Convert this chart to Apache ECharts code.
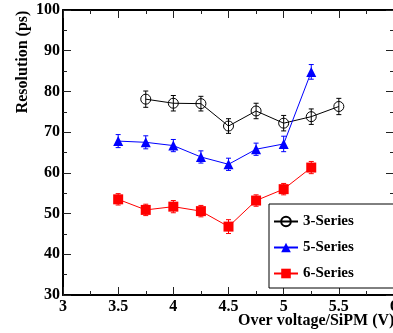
<!DOCTYPE html>
<html>
<head>
<meta charset="utf-8">
<script src="https://cdn.jsdelivr.net/npm/echarts@6/dist/echarts.min.js"></script>
<style>
  html, body { margin: 0; padding: 0; background: #fff; }
  #chart { width: 393px; height: 333px; }
</style>
</head>
<body>
<div id="chart"></div>
<script>
const voltages = [3.5, 3.75, 4, 4.25, 4.5, 4.75, 5, 5.25, 5.5]

// null where a series has no point
const series3 = [null, 78.1, 77.1, 77.0, 71.5, 75.2, 72.2, 73.8, 76.3]
const err3 = [null, 2.0, 1.9, 1.8, 1.8, 1.9, 1.9, 1.9, 2.0]
const series5 = [67.8, 67.5, 66.7, 63.9, 62.1, 65.8, 67.1, 84.8, null]
const err5 = [1.6, 1.6, 1.5, 1.5, 1.5, 1.5, 1.9, 1.8, null]
const series6 = [53.5, 50.9, 51.7, 50.6, 46.8, 53.2, 56.0, 61.3, null]
const err6 = [1.4, 1.4, 1.5, 1.4, 1.7, 1.4, 1.4, 1.5, null]

const seriesNames = ['3-Series', '5-Series', '6-Series']
const xTitle = 'Over voltage/SiPM (V)'
const yTitle = 'Resolution (ps)'

const font = 'Liberation Serif'

function points(vals) {
  const out = []
  vals.forEach((v, i) => { if (v != null) out.push([voltages[i], v]) })
  return out
}

function errPoints(vals, errs) {
  const out = []
  vals.forEach((v, i) => { if (v != null) out.push([voltages[i], v, errs[i]]) })
  return out
}

function errorBars(data, color) {
  return {
    type: 'custom',
    silent: true,
    z: 3,
    data: data,
    encode: { x: 0, y: 1 },
    renderItem: (params, api) => {
      const x = api.value(0)
      const y = api.value(1)
      const e = api.value(2)
      const top = api.coord([x, y + e])
      const bot = api.coord([x, y - e])
      const w = 2.5
      const style = { stroke: color, lineWidth: 1 }
      return {
        type: 'group',
        children: [
          { type: 'line', shape: { x1: top[0], y1: top[1], x2: bot[0], y2: bot[1] }, style },
          { type: 'line', shape: { x1: top[0] - w, y1: top[1], x2: top[0] + w, y2: top[1] }, style },
          { type: 'line', shape: { x1: bot[0] - w, y1: bot[1], x2: bot[0] + w, y2: bot[1] }, style },
        ],
      }
    },
  }
}

const xBase = {
  type: 'value',
  min: 3,
  max: 6,
  interval: 0.5,
  axisLine: { onZero: false, lineStyle: { color: '#000', width: 2 } },
  axisTick: { inside: true, length: 8, lineStyle: { color: '#222', width: 1 } },
  minorTick: { show: true, splitNumber: 2, length: 4, lineStyle: { color: '#222', width: 1 } },
  splitLine: { show: false },
}

const yBase = {
  type: 'value',
  min: 30,
  max: 100,
  interval: 10,
  axisLine: { onZero: false, lineStyle: { color: '#000', width: 2 } },
  axisTick: { inside: true, length: 8, lineStyle: { color: '#222', width: 1 } },
  minorTick: { show: true, splitNumber: 2, length: 4, lineStyle: { color: '#222', width: 1 } },
  splitLine: { show: false },
}

const labelStyle = { color: '#000', fontFamily: font, fontWeight: 'bold', fontSize: 16 }

const chart = echarts.init(document.getElementById('chart'), null, { renderer: 'canvas' })

chart.setOption({
  animation: false,
  backgroundColor: '#fff',
  grid: { left: 63, top: 10, width: 331, height: 285, outerBoundsMode: 'none', containLabel: false },
  xAxis: [
    Object.assign({}, xBase, {
      position: 'bottom',
      axisLabel: Object.assign({ margin: 4 }, labelStyle),
    }),
    Object.assign({}, xBase, { position: 'top', axisLabel: { show: false } }),
  ],
  yAxis: [
    Object.assign({}, yBase, {
      position: 'left',
      axisLabel: Object.assign({ margin: 3 }, labelStyle),
    }),
    Object.assign({}, yBase, { position: 'right', axisLabel: { show: false } }),
  ],
  legend: {
    data: seriesNames,
    orient: 'vertical',
    left: 269,
    top: 204,
    padding: [10, 50, 7, 4],
    itemGap: 11,
    itemWidth: 24,
    itemHeight: 12,
    borderColor: '#000',
    borderWidth: 1,
    borderRadius: 0,
    backgroundColor: '#fff',
    textStyle: { color: '#000', fontFamily: font, fontWeight: 'bold', fontSize: 15 },
  },
  graphic: [
    {
      type: 'text',
      x: 23,
      y: 62,
      rotation: Math.PI / 2,
      style: {
        text: yTitle,
        fill: '#000',
        font: 'bold 16px "Liberation Serif"',
        textAlign: 'center',
        textVerticalAlign: 'middle',
      },
    },
    {
      type: 'text',
      x: 238,
      y: 321,
      style: {
        text: xTitle,
        fill: '#000',
        font: 'bold 16px "Liberation Serif"',
        textAlign: 'left',
        textVerticalAlign: 'middle',
      },
    },
  ],
  series: [
    {
      name: seriesNames[0],
      type: 'line',
      data: points(series3),
      symbol: 'circle',
      symbolSize: 10,
      z: 4,
      lineStyle: { color: '#000', width: 1 },
      itemStyle: { color: 'rgba(0,0,0,0)', borderColor: '#000', borderWidth: 1 },
    },
    {
      name: seriesNames[1],
      type: 'line',
      data: points(series5),
      symbol: 'triangle',
      symbolSize: 10,
      z: 4,
      lineStyle: { color: '#0000ff', width: 1 },
      itemStyle: { color: '#0000ff' },
    },
    {
      name: seriesNames[2],
      type: 'line',
      data: points(series6),
      symbol: 'rect',
      symbolSize: 10,
      z: 4,
      lineStyle: { color: '#ff0000', width: 1 },
      itemStyle: { color: '#ff0000' },
    },
    errorBars(errPoints(series3, err3), '#000'),
    errorBars(errPoints(series5, err5), '#0000ff'),
    errorBars(errPoints(series6, err6), '#ff0000'),
  ],
})
</script>
</body>
</html>
